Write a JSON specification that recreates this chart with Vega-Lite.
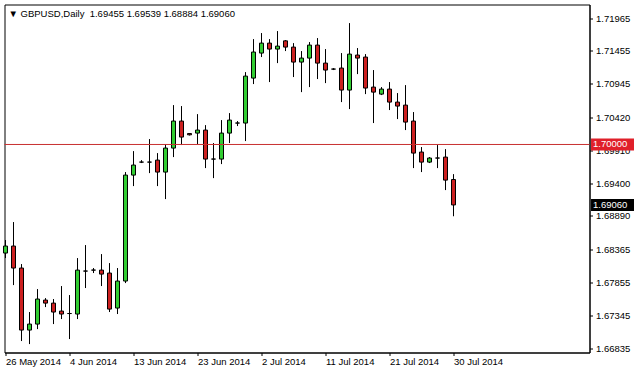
{
  "$schema": "https://vega.github.io/schema/vega-lite/v6.json",
  "width": 585,
  "height": 348,
  "autosize": "none",
  "padding": {"left": 4.5, "top": 4.5, "right": 44.5, "bottom": 18.5},
  "background": "white",
  "title": {
    "text": "▼ GBPUSD,Daily \u00a01.69455 1.69539 1.68884 1.69060",
    "anchor": "start",
    "orient": "top",
    "frame": "group",
    "offset": -14,
    "dx": 4,
    "font": "Liberation Sans",
    "fontSize": 9.5,
    "fontWeight": "normal",
    "color": "black"
  },
  "config": {
    "view": {"stroke": "black", "strokeWidth": 1},
    "axis": {
      "labelFont": "Liberation Sans",
      "labelFontSize": 9.5,
      "labelColor": "black",
      "domainColor": "black",
      "tickColor": "black",
      "tickSize": 3,
      "grid": false,
      "title": null,
      "labelOverlap": false,
      "labelFlush": false,
      "labelBound": false
    }
  },
  "datasets": {
    "bars": [
      {"i": 0, "date": "2014-05-26", "open": 1.68312, "high": 1.68514, "low": 1.68234, "close": 1.68421},
      {"i": 1, "date": "2014-05-27", "open": 1.68421, "high": 1.68794, "low": 1.67814, "close": 1.68079},
      {"i": 2, "date": "2014-05-28", "open": 1.68079, "high": 1.68141, "low": 1.66944, "close": 1.67115},
      {"i": 3, "date": "2014-05-29", "open": 1.67115, "high": 1.67395, "low": 1.66897, "close": 1.67208},
      {"i": 4, "date": "2014-05-30", "open": 1.67208, "high": 1.67752, "low": 1.67130, "close": 1.67597},
      {"i": 5, "date": "2014-06-01", "open": 1.67581, "high": 1.67612, "low": 1.67472, "close": 1.67534},
      {"i": 6, "date": "2014-06-02", "open": 1.67534, "high": 1.67597, "low": 1.67208, "close": 1.67395},
      {"i": 7, "date": "2014-06-03", "open": 1.67410, "high": 1.67799, "low": 1.67286, "close": 1.67364},
      {"i": 8, "date": "2014-06-04", "open": 1.67372, "high": 1.67659, "low": 1.66975, "close": 1.67372},
      {"i": 9, "date": "2014-06-05", "open": 1.67364, "high": 1.68234, "low": 1.67286, "close": 1.68047},
      {"i": 10, "date": "2014-06-06", "open": 1.68032, "high": 1.68436, "low": 1.67768, "close": 1.68032},
      {"i": 11, "date": "2014-06-08", "open": 1.68047, "high": 1.68079, "low": 1.68001, "close": 1.68047},
      {"i": 12, "date": "2014-06-09", "open": 1.68047, "high": 1.68296, "low": 1.67799, "close": 1.67985},
      {"i": 13, "date": "2014-06-10", "open": 1.68001, "high": 1.68156, "low": 1.67395, "close": 1.67441},
      {"i": 14, "date": "2014-06-11", "open": 1.67457, "high": 1.68079, "low": 1.67364, "close": 1.67877},
      {"i": 15, "date": "2014-06-12", "open": 1.67877, "high": 1.69571, "low": 1.67845, "close": 1.69524},
      {"i": 16, "date": "2014-06-13", "open": 1.69524, "high": 1.69897, "low": 1.69353, "close": 1.69680},
      {"i": 17, "date": "2014-06-15", "open": 1.69726, "high": 1.69757, "low": 1.69711, "close": 1.69726},
      {"i": 18, "date": "2014-06-16", "open": 1.69726, "high": 1.70084, "low": 1.69555, "close": 1.69726},
      {"i": 19, "date": "2014-06-17", "open": 1.69757, "high": 1.69866, "low": 1.69353, "close": 1.69571},
      {"i": 20, "date": "2014-06-18", "open": 1.69571, "high": 1.70006, "low": 1.69151, "close": 1.69944},
      {"i": 21, "date": "2014-06-19", "open": 1.69944, "high": 1.70612, "low": 1.69804, "close": 1.70364},
      {"i": 22, "date": "2014-06-20", "open": 1.70364, "high": 1.70597, "low": 1.69991, "close": 1.70115},
      {"i": 23, "date": "2014-06-22", "open": 1.70170, "high": 1.70175, "low": 1.70140, "close": 1.70150},
      {"i": 24, "date": "2014-06-23", "open": 1.70177, "high": 1.70472, "low": 1.70006, "close": 1.70224},
      {"i": 25, "date": "2014-06-24", "open": 1.70224, "high": 1.70301, "low": 1.69633, "close": 1.69773},
      {"i": 26, "date": "2014-06-25", "open": 1.69773, "high": 1.70022, "low": 1.69477, "close": 1.69773},
      {"i": 27, "date": "2014-06-26", "open": 1.69773, "high": 1.70379, "low": 1.69695, "close": 1.70177},
      {"i": 28, "date": "2014-06-27", "open": 1.70177, "high": 1.70488, "low": 1.70022, "close": 1.70379},
      {"i": 29, "date": "2014-06-29", "open": 1.70333, "high": 1.70364, "low": 1.70286, "close": 1.70333},
      {"i": 30, "date": "2014-06-30", "open": 1.70333, "high": 1.71125, "low": 1.70053, "close": 1.71063},
      {"i": 31, "date": "2014-07-01", "open": 1.71032, "high": 1.71638, "low": 1.70939, "close": 1.71437},
      {"i": 32, "date": "2014-07-02", "open": 1.71421, "high": 1.71732, "low": 1.71359, "close": 1.71576},
      {"i": 33, "date": "2014-07-03", "open": 1.71576, "high": 1.71638, "low": 1.70970, "close": 1.71483},
      {"i": 34, "date": "2014-07-04", "open": 1.71483, "high": 1.71763, "low": 1.71265, "close": 1.71529},
      {"i": 35, "date": "2014-07-06", "open": 1.71611, "high": 1.71623, "low": 1.71452, "close": 1.71514},
      {"i": 36, "date": "2014-07-07", "open": 1.71514, "high": 1.71576, "low": 1.71048, "close": 1.71281},
      {"i": 37, "date": "2014-07-08", "open": 1.71281, "high": 1.71452, "low": 1.70814, "close": 1.71343},
      {"i": 38, "date": "2014-07-09", "open": 1.71343, "high": 1.71592, "low": 1.70892, "close": 1.71545},
      {"i": 39, "date": "2014-07-10", "open": 1.71545, "high": 1.71654, "low": 1.71017, "close": 1.71265},
      {"i": 40, "date": "2014-07-11", "open": 1.71265, "high": 1.71483, "low": 1.70954, "close": 1.71157},
      {"i": 41, "date": "2014-07-13", "open": 1.71172, "high": 1.71187, "low": 1.71157, "close": 1.71172},
      {"i": 42, "date": "2014-07-14", "open": 1.71188, "high": 1.71421, "low": 1.70659, "close": 1.70846},
      {"i": 43, "date": "2014-07-15", "open": 1.70846, "high": 1.71887, "low": 1.70550, "close": 1.71405},
      {"i": 44, "date": "2014-07-16", "open": 1.71390, "high": 1.71499, "low": 1.71094, "close": 1.71343},
      {"i": 45, "date": "2014-07-17", "open": 1.71359, "high": 1.71405, "low": 1.70783, "close": 1.70877},
      {"i": 46, "date": "2014-07-18", "open": 1.70892, "high": 1.71157, "low": 1.70333, "close": 1.70814},
      {"i": 47, "date": "2014-07-20", "open": 1.70783, "high": 1.70892, "low": 1.70768, "close": 1.70861},
      {"i": 48, "date": "2014-07-21", "open": 1.70861, "high": 1.70970, "low": 1.70535, "close": 1.70659},
      {"i": 49, "date": "2014-07-22", "open": 1.70659, "high": 1.70799, "low": 1.70395, "close": 1.70597},
      {"i": 50, "date": "2014-07-23", "open": 1.70612, "high": 1.70923, "low": 1.70224, "close": 1.70348},
      {"i": 51, "date": "2014-07-24", "open": 1.70364, "high": 1.70504, "low": 1.69633, "close": 1.69866},
      {"i": 52, "date": "2014-07-25", "open": 1.69882, "high": 1.69960, "low": 1.69571, "close": 1.69726},
      {"i": 53, "date": "2014-07-27", "open": 1.69726, "high": 1.69804, "low": 1.69711, "close": 1.69789},
      {"i": 54, "date": "2014-07-28", "open": 1.69789, "high": 1.69991, "low": 1.69633, "close": 1.69789},
      {"i": 55, "date": "2014-07-29", "open": 1.69804, "high": 1.69928, "low": 1.69291, "close": 1.69446},
      {"i": 56, "date": "2014-07-30", "open": 1.69455, "high": 1.69539, "low": 1.68884, "close": 1.69060}
    ],
    "levels": [
      {"name": "line", "level": 1.7},
      {"name": "last", "level": 1.6906}
    ]
  },
  "encoding": {
    "y": {
      "type": "quantitative",
      "scale": {"domain": [1.66766, 1.72176], "nice": false, "zero": false, "padding": 0},
      "axis": {
        "orient": "right",
        "values": [1.71965, 1.71455, 1.70945, 1.7042, 1.6991, 1.694, 1.6889, 1.68365, 1.67855, 1.67345, 1.66835],
        "format": ".5f",
        "labelPadding": 3,
        "labelOverlap": false,
        "labelFlush": false,
        "labelBound": false
      }
    }
  },
  "layer": [
    {
      "data": {"name": "bars"},
      "mark": {"type": "rule", "color": "black", "strokeWidth": 1},
      "encoding": {
        "x": {
          "field": "i",
          "type": "quantitative",
          "scale": {"domain": [-0.125, 73], "nice": false, "zero": false, "padding": 0},
          "axis": {
            "orient": "bottom",
            "values": [0, 8, 16, 24, 32, 40, 48, 56],
            "labelExpr": "datum.value==0?'26 May 2014':datum.value==8?'4 Jun 2014':datum.value==16?'13 Jun 2014':datum.value==24?'23 Jun 2014':datum.value==32?'2 Jul 2014':datum.value==40?'11 Jul 2014':datum.value==48?'21 Jul 2014':'30 Jul 2014'",
            "labelAlign": "left",
            "labelBaseline": "top",
            "labelPadding": 1,
            "labelDx": 1,
            "labelOverlap": false
          }
        },
        "y": {"field": "low", "type": "quantitative"},
        "y2": {"field": "high"}
      }
    },
    {
      "data": {"name": "bars"},
      "mark": {"type": "bar", "width": 4, "stroke": "black", "strokeWidth": 1},
      "encoding": {
        "x": {"field": "i", "type": "quantitative"},
        "y": {"field": "open", "type": "quantitative"},
        "y2": {"field": "close"},
        "fill": {
          "condition": {"test": "datum.close > datum.open", "value": "#32cd32"},
          "value": "#cc2020"
        }
      }
    },
    {
      "data": {"name": "levels"},
      "transform": [{"filter": "datum.name == 'line'"}],
      "mark": {"type": "rule", "color": "#c83030", "strokeWidth": 1},
      "encoding": {
        "y": {"field": "level", "type": "quantitative"}
      }
    },
    {
      "data": {"name": "levels"},
      "mark": {"type": "rect", "yOffset": -6, "y2Offset": 6},
      "encoding": {
        "x": {"datum": 73.19, "type": "quantitative"},
        "x2": {"datum": 78.6},
        "y": {"field": "level", "type": "quantitative"},
        "y2": {"field": "level"},
        "fill": {
          "condition": {"test": "datum.name == 'line'", "value": "#e0202a"},
          "value": "black"
        }
      }
    },
    {
      "data": {"name": "levels"},
      "mark": {"type": "text", "color": "white", "align": "left", "baseline": "middle", "font": "Liberation Sans", "fontSize": 9.5},
      "encoding": {
        "x": {"datum": 73.44, "type": "quantitative"},
        "y": {"field": "level", "type": "quantitative"},
        "text": {"field": "level", "type": "quantitative", "format": ".5f"}
      }
    }
  ]
}
